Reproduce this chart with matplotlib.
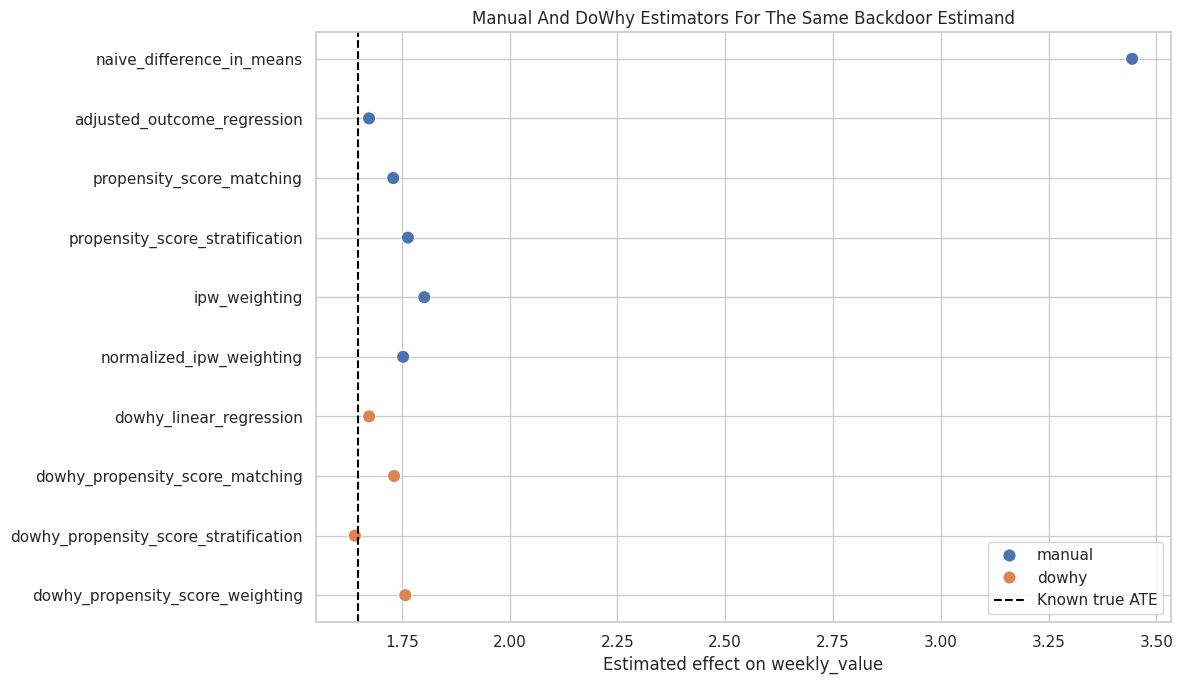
import numpy as np
import pandas as pd
import matplotlib
matplotlib.use("Agg")
import matplotlib.pyplot as plt
import seaborn as sns

# estimator names, estimates and source
estimators = [
    "naive_difference_in_means",
    "adjusted_outcome_regression",
    "propensity_score_matching",
    "propensity_score_stratification",
    "ipw_weighting",
    "normalized_ipw_weighting",
    "dowhy_linear_regression",
    "dowhy_propensity_score_matching",
    "dowhy_propensity_score_stratification",
    "dowhy_propensity_score_weighting",
]
estimates = [3.444, 1.674, 1.730, 1.764, 1.802, 1.753, 1.674, 1.732, 1.641, 1.758]
sources = ["manual"] * 6 + ["dowhy"] * 4
true_ate = 1.649

df = pd.DataFrame({"estimator": estimators, "estimate": estimates, "source": sources})

sns.set_theme(style="whitegrid")

fig = plt.figure(figsize=(11.85, 6.84), dpi=100)
ax = fig.add_axes([316 / 1185, 1 - 622 / 684, (1171 - 316) / 1185, (622 - 32) / 684])

sns.scatterplot(data=df, x="estimate", y="estimator", hue="source", s=90, ax=ax)
ax.axvline(true_ate, color="black", linestyle="--", linewidth=1.5, label="Known true ATE")

ax.set_title("Manual And DoWhy Estimators For The Same Backdoor Estimand")
ax.set_xlabel("Estimated effect on weekly_value")
ax.set_ylabel("")
ax.legend(loc="lower right")

fig.savefig("out.png", dpi=100)
